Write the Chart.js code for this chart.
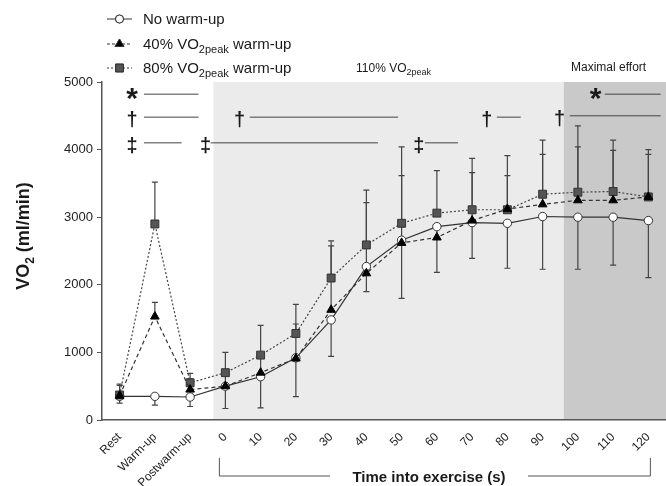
<!DOCTYPE html>
<html>
<head>
<meta charset="utf-8">
<script src="https://cdn.jsdelivr.net/npm/chart.js@4"></script>
<style>
  html, body { margin: 0; padding: 0; background: #fff; }
  #wrap { width: 666px; height: 486px; }
</style>
</head>
<body>
<div id="wrap"><canvas id="myChart" width="666" height="486"></canvas></div>
<script>
const labels = ['Rest', 'Warm-up', 'Postwarm-up', '0', '10', '20', '30', '40', '50', '60', '70', '80', '90', '100', '110', '120'];

// mean VO2 (ml/min)
const noWarmup = [350, 350, 340, 500, 640, 920, 1480, 2270, 2660, 2860, 2920, 2910, 3010, 3000, 3000, 2950];
const warmup40 = [360, 1530, 450, 500, 700, 910, 1630, 2170, 2620, 2700, 2950, 3120, 3190, 3250, 3250, 3300];
const warmup80 = [370, 2900, 550, 700, 960, 1280, 2100, 2590, 2910, 3060, 3110, 3110, 3340, 3370, 3380, 3300];

// SD bars (one direction each, as in the figure)
const sdNoWarmupDown = [100, 130, 140, 330, 460, 575, 540, 370, 860, 675, 530, 665, 780, 770, 710, 845];
const sd40Up = [150, 210, 160, 200, 250, 510, 945, 1045, 995, 0, 710, 495, 740, 790, 740, 630];
const sd80Up = [160, 620, 140, 300, 440, 430, 550, 810, 1130, 630, 760, 800, 800, 980, 760, 700];

// shaded phases (category positions)
const phase110 = [2.66, 12.6];
const phaseMax = [12.6, 15.5];

// significance marks: symbol, symbol pos, line from, line to, y value of line
const sigMarks = [
  ['*', 0.35, 0.69, 2.24, 4820],
  ['†', 0.35, 0.69, 2.24, 4480],
  ['‡', 0.35, 0.69, 1.76, 4100],
  ['‡', 2.44, 2.58, 7.33, 4100],
  ['†', 3.40, 3.69, 7.90, 4480],
  ['‡', 8.49, 8.66, 9.60, 4100],
  ['†', 10.42, 10.70, 11.38, 4480],
  ['†', 12.48, 12.77, 15.35, 4500],
  ['*', 13.50, 13.76, 15.35, 4820]
];

function richText(ctx, parts, x, y) {
  let cx = x;
  for (const p of parts) {
    ctx.font = p.f;
    ctx.fillText(p.t, cx, y + (p.dy || 0));
    cx += ctx.measureText(p.t).width;
  }
  return cx;
}

const decor = {
  id: 'decor',
  beforeDraw(chart) {
    const ctx = chart.ctx, xs = chart.scales.x, ys = chart.scales.y;
    const top = ys.getPixelForValue(5000), bot = ys.getPixelForValue(0);
    ctx.save();
    ctx.fillStyle = '#ebebeb';
    let a = xs.getPixelForValue(phase110[0]), b = xs.getPixelForValue(phase110[1]);
    ctx.fillRect(a, top, b - a, bot - top);
    ctx.fillStyle = '#c9c9c9';
    a = xs.getPixelForValue(phaseMax[0]); b = chart.chartArea.right;
    ctx.fillRect(a, top, b - a, bot - top);
    ctx.restore();
  },
  beforeDatasetsDraw(chart) {
    const ctx = chart.ctx, xs = chart.scales.x, ys = chart.scales.y;
    ctx.save();
    ctx.strokeStyle = '#444';
    ctx.lineWidth = 1.2;
    const bar = (i, v0, v1) => {
      if (!v1 || v0 === v1) return;
      const x = xs.getPixelForValue(i), y0 = ys.getPixelForValue(v0), y1 = ys.getPixelForValue(v1);
      ctx.beginPath();
      ctx.moveTo(x, y0); ctx.lineTo(x, y1);
      ctx.moveTo(x - 3, y1); ctx.lineTo(x + 3, y1);
      ctx.stroke();
    };
    labels.forEach((l, i) => {
      bar(i, noWarmup[i], noWarmup[i] - sdNoWarmupDown[i]);
      if (sd40Up[i]) bar(i, warmup40[i], warmup40[i] + sd40Up[i]);
      bar(i, warmup80[i], warmup80[i] + sd80Up[i]);
    });
    ctx.restore();
  },
  afterDraw(chart) {
    const ctx = chart.ctx, xs = chart.scales.x, ys = chart.scales.y;
    ctx.save();
    ctx.fillStyle = '#1a1a1a';
    ctx.strokeStyle = '#333';
    ctx.textBaseline = 'alphabetic';

    // legend
    const legendRows = [
      { y: 19, dash: [], style: 'circle', fill: '#fff', r: 4, text: [{ t: 'No warm-up', f: '15px Arial' }] },
      { y: 44, dash: [3, 2], style: 'triangle', fill: '#000', r: 5, text: [{ t: '40% VO', f: '15px Arial' }, { t: '2peak', f: '11px Arial', dy: 4 }, { t: ' warm-up', f: '15px Arial' }] },
      { y: 68, dash: [2, 2], style: 'rect', fill: '#555', r: 5.5, text: [{ t: '80% VO', f: '15px Arial' }, { t: '2peak', f: '11px Arial', dy: 4 }, { t: ' warm-up', f: '15px Arial' }] }
    ];
    for (const row of legendRows) {
      ctx.setLineDash(row.dash);
      ctx.lineWidth = 1;
      ctx.beginPath(); ctx.moveTo(107, row.y); ctx.lineTo(132, row.y); ctx.stroke();
      ctx.setLineDash([]);
      Chart.helpers.drawPoint(ctx, { pointStyle: row.style, radius: row.r, borderWidth: 1 }, 119.5, row.y);
      ctx.fillStyle = row.fill; ctx.fill(); ctx.stroke();
      ctx.fillStyle = '#1a1a1a';
      richText(ctx, row.text, 143, row.y + 5);
    }

    // phase labels
    richText(ctx, [{ t: '110% VO', f: '12px Arial' }, { t: '2peak', f: '9px Arial', dy: 3 }], 356, 72);
    ctx.font = '12px Arial';
    ctx.fillText('Maximal effort', 571, 71);

    // significance marks
    ctx.lineWidth = 1;
    ctx.strokeStyle = '#444';
    for (const [sym, sx, lx0, lx1, v] of sigMarks) {
      const y = ys.getPixelForValue(v);
      ctx.textAlign = 'center';
      if (sym === '*') {
        ctx.font = 'bold 30px Arial';
        ctx.fillText(sym, xs.getPixelForValue(sx), y + 14);
      } else {
        ctx.font = 'bold 20px Arial';
        ctx.fillText(sym, xs.getPixelForValue(sx), y + 9);
      }
      ctx.beginPath();
      ctx.moveTo(xs.getPixelForValue(lx0), y);
      ctx.lineTo(Math.min(xs.getPixelForValue(lx1), chart.chartArea.right - 3), y);
      ctx.stroke();
    }

    // y title
    ctx.save();
    ctx.translate(29, 236);
    ctx.rotate(-Math.PI / 2);
    ctx.textAlign = 'left';
    ctx.font = 'bold 18px Arial';
    const w1 = ctx.measureText('VO').width;
    ctx.font = 'bold 12px Arial';
    const w2 = ctx.measureText('2').width;
    ctx.font = 'bold 18px Arial';
    const w3 = ctx.measureText(' (ml/min)').width;
    richText(ctx, [{ t: 'VO', f: 'bold 18px Arial' }, { t: '2', f: 'bold 12px Arial', dy: 5 }, { t: ' (ml/min)', f: 'bold 18px Arial' }], -(w1 + w2 + w3) / 2, 0);
    ctx.restore();

    // time bracket
    const bx0 = xs.getPixelForValue(3) - 6, bx1 = xs.getPixelForValue(15) + 2;
    ctx.strokeStyle = '#555';
    ctx.beginPath();
    ctx.moveTo(bx0, 458); ctx.lineTo(bx0, 476); ctx.lineTo(330, 476);
    ctx.moveTo(528, 476); ctx.lineTo(bx1, 476); ctx.lineTo(bx1, 458);
    ctx.stroke();
    ctx.textAlign = 'center';
    ctx.font = 'bold 15px Arial';
    ctx.fillText('Time into exercise (s)', 429, 482);
    ctx.restore();
  }
};

function drawChart() {
  const data = {
    labels: labels,
    datasets: [
      {
        label: 'No warm-up',
        data: noWarmup,
        borderColor: '#333',
        borderWidth: 1.2,
        pointStyle: 'circle',
        pointRadius: 4.2,
        pointBackgroundColor: '#fff',
        pointBorderColor: '#333',
        pointBorderWidth: 1,
        order: 3
      },
      {
        label: '40% VO2peak warm-up',
        data: warmup40,
        borderColor: '#333',
        borderWidth: 1.2,
        borderDash: [4, 3],
        pointStyle: 'triangle',
        pointRadius: 5,
        pointBackgroundColor: '#000',
        pointBorderColor: '#000',
        pointBorderWidth: 1,
        order: 1
      },
      {
        label: '80% VO2peak warm-up',
        data: warmup80,
        borderColor: '#444',
        borderWidth: 1.2,
        borderDash: [2, 2],
        pointStyle: 'rect',
        pointRadius: 5.6,
        pointBackgroundColor: '#555',
        pointBorderColor: '#333',
        pointBorderWidth: 1,
        order: 2
      }
    ]
  };

  const config = {
    type: 'line',
    data: data,
    plugins: [decor],
    options: {
      responsive: false,
      animation: false,
      layout: { autoPadding: false, padding: { top: 82, right: 0, left: 0, bottom: 0 } },
      plugins: {
        legend: { display: false },
        tooltip: { enabled: false }
      },
      scales: {
        x: {
          offset: true,
          grid: { display: false },
          border: { display: true, color: '#555', width: 1.5 },
          ticks: {
            color: '#222',
            font: { size: 12, family: 'Arial' },
            minRotation: 45,
            maxRotation: 45,
            autoSkip: false,
            padding: 2
          },
          afterFit(scale) {
            scale.height = 66;
          }
        },
        y: {
          min: 0,
          max: 5000,
          grid: { drawOnChartArea: false, drawTicks: true, tickLength: 5, color: '#555' },
          border: { display: true, color: '#555', width: 1.5 },
          ticks: {
            stepSize: 1000,
            color: '#222',
            font: { size: 13, family: 'Arial' },
            padding: 4,
            callback: (v) => String(v)
          },
          afterFit(scale) {
            scale.width = 102;
          }
        }
      }
    }
  };

  new Chart(document.getElementById('myChart'), config);
}

window.onload = drawChart;
</script>
</body>
</html>
